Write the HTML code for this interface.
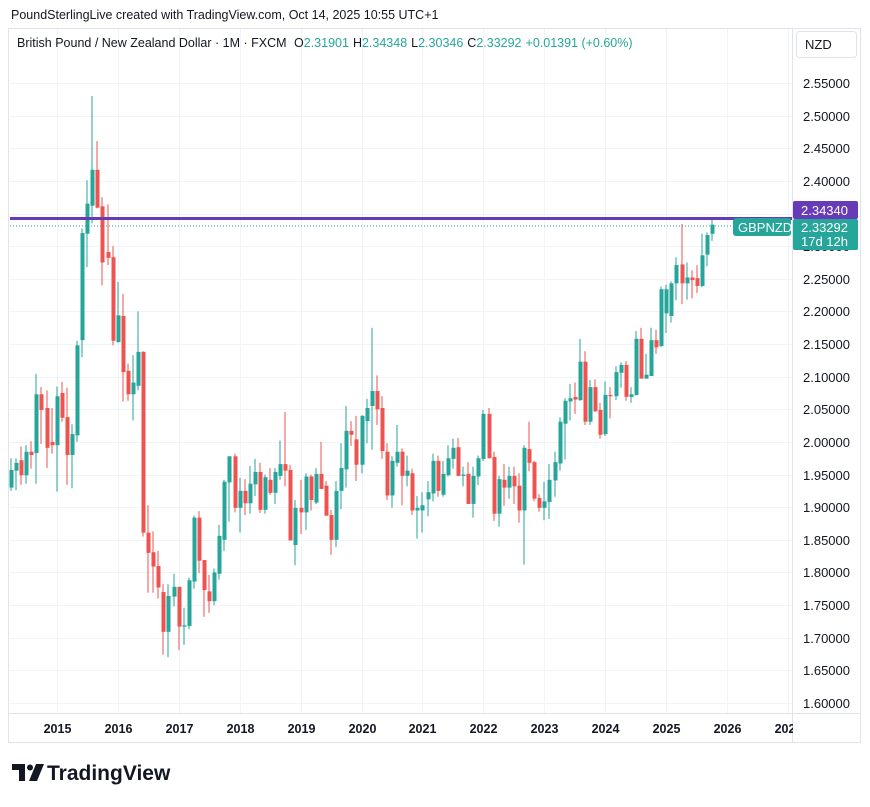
<!DOCTYPE html>
<html><head><meta charset="utf-8"><style>
body{margin:0;background:#fff;font-family:"Liberation Sans",sans-serif;}
svg text{font-family:"Liberation Sans",sans-serif;}
</style></head><body>
<svg id="c" width="870" height="802" viewBox="0 0 870 802" xmlns="http://www.w3.org/2000/svg">
<rect x="0" y="0" width="870" height="802" fill="#fff"/>
<text x="11" y="19" font-size="12.5" fill="#131722">PoundSterlingLive created with TradingView.com, Oct 14, 2025 10:55 UTC+1</text>
<rect x="8.5" y="28.5" width="852" height="714" fill="none" stroke="#e0e3eb"/>
<g id="grid"></g>
<g id="candles"></g>
<line x1="10" y1="218.5" x2="792" y2="218.5" stroke="#673ab7" stroke-width="3"/>
<line x1="10" y1="226" x2="792" y2="226" stroke="#26a69a" stroke-width="1" stroke-dasharray="1,2"/>
<line x1="792.5" y1="29" x2="792.5" y2="742" stroke="#e0e3eb"/>
<line x1="9" y1="713.5" x2="860" y2="713.5" stroke="#e0e3eb"/>
<g id="yaxis"></g>
<g id="xaxis"></g>
<text x="17" y="47" font-size="12.5" fill="#131722">British Pound / New Zealand Dollar · 1M · FXCM <tspan dx="4">O</tspan><tspan fill="#26a69a">2.31901</tspan><tspan dx="4">H</tspan><tspan fill="#26a69a">2.34348</tspan><tspan dx="4">L</tspan><tspan fill="#26a69a">2.30346</tspan><tspan dx="4">C</tspan><tspan fill="#26a69a">2.33292</tspan><tspan dx="4" fill="#26a69a">+0.01391 (+0.60%)</tspan></text>
<rect x="796.5" y="31.5" width="60" height="26" rx="3" fill="#fff" stroke="#e0e3eb"/>
<text x="805" y="49" font-size="13" fill="#131722">NZD</text>
<rect x="793" y="201" width="65" height="18" rx="2" fill="#673ab7"/>
<text x="801" y="215" font-size="13" fill="#fff">2.34340</text>
<rect x="793" y="219" width="65" height="31" rx="2" fill="#26a69a"/>
<text x="801" y="232" font-size="13" fill="#fff">2.33292</text>
<text x="801" y="246" font-size="13" fill="#fff">17d 12h</text>
<rect x="733" y="218" width="58" height="18" rx="3" fill="#26a69a"/>
<text x="738" y="232" font-size="13" fill="#fff">GBPNZD</text>
<g>
<path d="M12 764h13v17h-6v-11h-7z" fill="#131722"/>
<circle cx="30" cy="767.5" r="3" fill="#131722"/>
<path d="M36 764h8l-7 17h-8z" fill="#131722"/>
<text x="47" y="780" font-size="21" font-weight="bold" fill="#131722">TradingView</text>
</g>
</svg>
<script>
const opens=[1.930,1.956,1.972,1.949,1.985,1.983,2.073,2.052,2.000,1.995,
2.075,2.038,1.980,2.010,2.156,2.319,2.362,2.417,2.361,2.291,
2.283,2.153,2.193,2.109,2.073,2.086,2.138,1.861,1.831,1.810,
1.770,1.709,1.763,1.778,1.717,1.718,1.786,1.884,1.819,1.771,
1.756,1.798,1.850,1.938,1.978,1.899,1.925,1.906,1.935,1.954,
1.896,1.942,1.922,1.948,1.966,1.957,1.842,1.899,1.892,1.947,
1.907,1.951,1.933,1.888,1.850,1.925,1.958,2.017,2.004,1.965,
2.032,2.055,2.078,2.052,1.985,1.918,1.968,1.985,1.948,1.952,
1.895,1.895,1.912,1.921,1.971,1.919,1.949,1.974,1.992,1.948,
1.951,1.905,1.947,1.974,2.043,1.977,1.890,1.942,1.930,1.948,
1.933,1.895,1.989,1.969,1.914,1.899,1.908,1.941,1.967,2.028,
2.062,2.069,2.064,2.123,2.031,2.084,2.049,2.012,2.072,2.070,
2.106,2.118,2.069,2.072,2.158,2.097,2.101,2.156,2.147,2.197,
2.193,2.243,2.272,2.243,2.252,2.251,2.239,2.287,2.319];
const highs=[1.975,1.975,1.993,1.995,2.001,2.104,2.084,2.079,2.052,2.085,
2.092,2.083,2.027,2.155,2.327,2.401,2.530,2.461,2.375,2.364,
2.300,2.245,2.227,2.120,2.133,2.200,2.139,1.903,1.863,1.833,
1.782,1.782,1.798,1.778,1.746,1.792,1.887,1.894,1.819,1.796,
1.806,1.873,1.942,1.978,1.982,1.945,1.943,1.963,1.974,1.968,
1.950,1.960,1.960,2.002,2.046,1.965,1.911,1.942,1.952,1.950,
1.960,2.000,1.940,1.896,1.940,1.998,2.055,2.032,2.040,2.041,
2.066,2.175,2.102,2.070,1.998,1.978,2.026,1.990,1.979,1.959,
1.917,1.923,1.940,1.982,1.979,1.971,1.995,2.005,2.006,1.962,
1.969,1.962,1.979,2.049,2.052,1.985,1.948,1.966,1.962,1.962,
1.952,1.995,2.031,1.971,1.920,1.939,1.966,1.985,2.038,2.067,
2.089,2.091,2.158,2.139,2.095,2.096,2.060,2.093,2.084,2.116,
2.122,2.124,2.084,2.170,2.175,2.135,2.175,2.172,2.238,2.241,
2.246,2.283,2.334,2.275,2.263,2.271,2.319,2.321,2.3435];
const lows=[1.925,1.926,1.934,1.936,1.959,1.936,1.997,1.960,1.982,1.924,
2.031,1.934,1.929,2.000,2.130,2.268,2.335,2.358,2.240,2.271,
2.148,2.152,2.062,2.063,2.033,2.079,1.855,1.769,1.769,1.760,
1.674,1.670,1.748,1.681,1.689,1.713,1.775,1.799,1.732,1.738,
1.750,1.789,1.833,1.878,1.892,1.861,1.888,1.890,1.917,1.891,
1.890,1.919,1.905,1.942,1.932,1.849,1.811,1.859,1.865,1.895,
1.905,1.928,1.887,1.827,1.839,1.897,1.930,1.994,1.940,1.952,
1.998,1.988,2.026,1.974,1.911,1.899,1.962,1.903,1.932,1.888,
1.852,1.861,1.886,1.909,1.916,1.916,1.947,1.959,1.948,1.932,
1.905,1.884,1.934,1.971,1.975,1.879,1.870,1.902,1.913,1.905,
1.876,1.812,1.955,1.909,1.893,1.880,1.882,1.916,1.956,1.973,
2.033,2.043,2.063,2.026,2.026,2.046,2.005,2.009,2.036,2.064,
2.083,2.063,2.060,2.071,2.097,2.097,2.138,2.135,2.145,2.167,
2.183,2.217,2.211,2.218,2.220,2.228,2.237,2.269,2.308];
const closes=[1.957,1.968,1.949,1.985,1.980,2.073,2.049,1.991,1.995,2.070,
2.037,1.980,2.012,2.148,2.320,2.365,2.417,2.359,2.275,2.282,
2.155,2.194,2.107,2.073,2.091,2.138,1.861,1.830,1.809,1.777,
1.709,1.764,1.778,1.717,1.719,1.788,1.884,1.818,1.773,1.756,
1.800,1.856,1.939,1.978,1.899,1.925,1.906,1.936,1.954,1.896,
1.946,1.922,1.954,1.966,1.956,1.849,1.899,1.892,1.947,1.911,
1.951,1.928,1.887,1.850,1.925,1.960,2.017,2.011,1.965,2.040,
2.052,2.078,2.050,1.986,1.918,1.971,1.985,1.948,1.956,1.895,
1.899,1.903,1.923,1.971,1.925,1.951,1.975,1.991,1.948,1.950,
1.905,1.948,1.975,2.043,1.975,1.890,1.943,1.930,1.948,1.932,
1.895,1.991,1.968,1.913,1.899,1.909,1.942,1.969,2.031,2.063,
2.067,2.065,2.123,2.031,2.084,2.047,2.011,2.072,2.070,2.107,
2.118,2.069,2.073,2.158,2.097,2.103,2.156,2.145,2.234,2.234,
2.243,2.271,2.243,2.252,2.248,2.239,2.286,2.317,2.33292];
const priceTicks=[1.60,1.65,1.70,1.75,1.80,1.85,1.90,1.95,2.00,2.05,2.10,2.15,2.20,2.25,2.30,2.35,2.40,2.45,2.50,2.55];
const yearLabels=["2015","2016","2017","2018","2019","2020","2021","2022","2023","2024","2025","2026","2027"];
const firstYear=2015, firstMonthOffset=-9;

const NS="http://www.w3.org/2000/svg";
function yS(p){return 83+(2.55-p)/0.05*32.63;}
function xIdx(i){return 11+5.08*i;}
function xYear(k){return 11+5.08*(k*12-firstMonthOffset);}
function mk(tag,attrs,parent){const e=document.createElementNS(NS,tag);for(const k in attrs)e.setAttribute(k,attrs[k]);parent.appendChild(e);return e;}

const grid=document.getElementById('grid'),ya=document.getElementById('yaxis'),xa=document.getElementById('xaxis'),cg=document.getElementById('candles');
priceTicks.forEach(p=>{
  const y=Math.round(yS(p))+0.5;
  const l=mk('line',{x1:10,x2:792,y1:y,y2:y,stroke:'#f0f3fa'},grid);
  
  
  const t=mk('text',{x:803,y:y+4.5,'font-size':13,fill:'#131722'},ya);
  t.textContent=p.toFixed(5);
  
  
});
yearLabels.forEach((lab,k)=>{
  const x=Math.round(xYear(k))+0.5;
  if(x<792){
    const l=mk('line',{x1:x,x2:x,y1:29,y2:713,stroke:'#f0f3fa'},grid);
    
    
  }
  if(x<800){
    const t=mk('text',{x:x,y:733,'font-size':12.5,'font-weight':'bold',fill:'#131722','text-anchor':'middle'},xa);
    t.textContent=lab;
    
    
  }
});
const m=mk('rect',{x:793,y:716,width:67,height:26,fill:'#fff'},xa);



opens.forEach((o,i)=>{
  const c=closes[i],h=highs[i],l=lows[i];
  const col=c>=o?'#26a69a':'#ef5350';
  const x=xIdx(i);
  const g=mk('g',{},cg);
  
  
  mk('rect',{x:Math.round(x)-0.5,y:yS(h),width:1,height:Math.max(1,yS(l)-yS(h)),fill:col},g);
  const top=yS(Math.max(o,c)),bot=yS(Math.min(o,c));
  mk('rect',{x:Math.round(x)-1.5,y:top,width:4,height:Math.max(1,bot-top),fill:col},g);
});
</script>
</body></html>
